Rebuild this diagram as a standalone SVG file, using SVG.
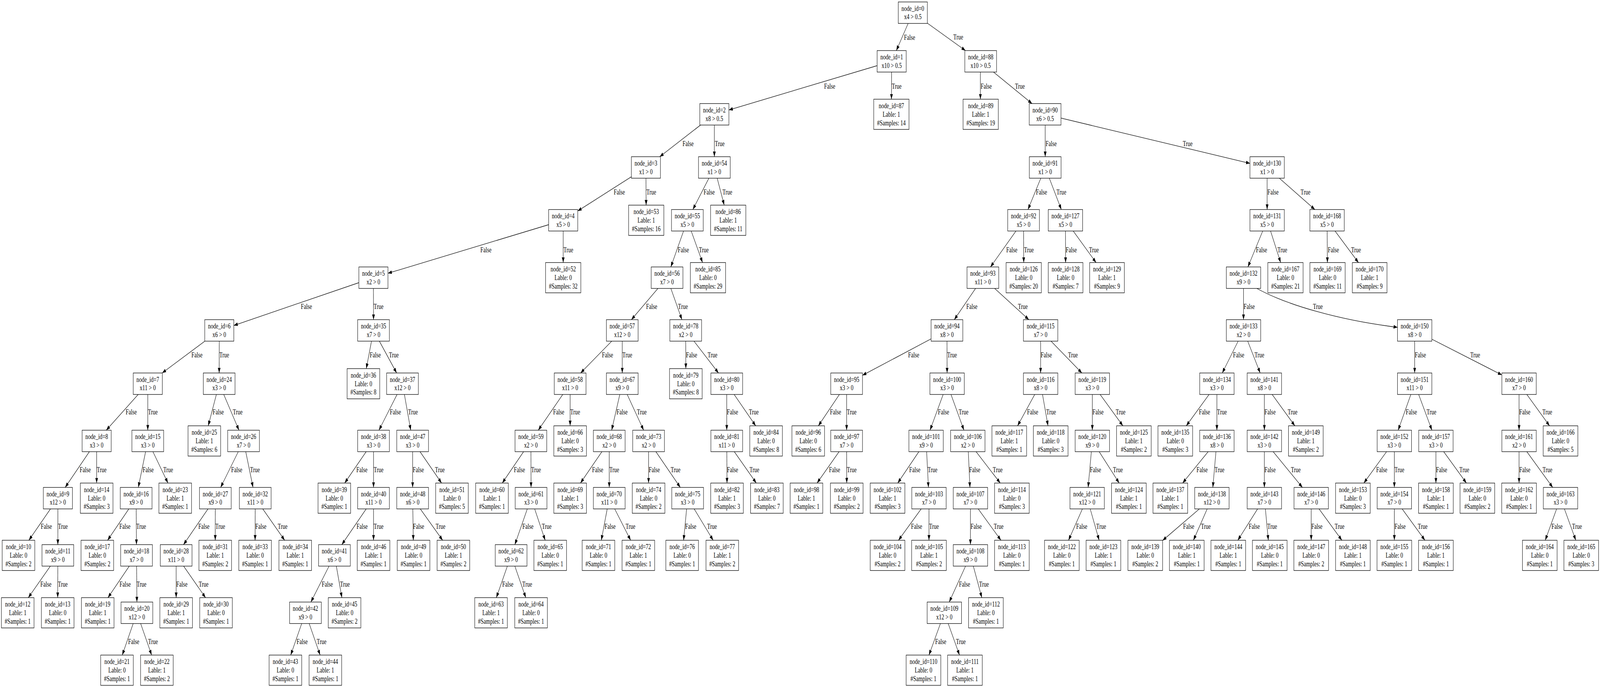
<svg xmlns="http://www.w3.org/2000/svg" width="5446" height="1759" viewBox="0 0 5446 1759" preserveAspectRatio="none">
<style>
svg{width:100vw;height:100vh}
.e line,.e path{stroke:#000;stroke-width:1.3;fill:none;marker-end:url(#ah)}
.l text{font-family:"Liberation Serif","Times New Roman",serif;font-size:18px;fill:#000}
.n use{fill:#fff;stroke:#000;stroke-width:1.3}
.n text{font-family:"Liberation Serif","Times New Roman",serif;font-size:18px;text-anchor:middle;fill:#000}
</style>
<defs>
<marker id="ah" markerUnits="userSpaceOnUse" markerWidth="14" markerHeight="10" refX="13.3" refY="4.7" orient="auto"><path d="M0,0 L13.3,4.7 L0,9.4 z" fill="#000"/></marker>
<rect id="a" x="-49.5" y="-27.5" width="99" height="55"/>
<rect id="b" x="-54" y="-27.5" width="108" height="55"/>
<rect id="c" x="-58.5" y="-27.5" width="117" height="55"/>
<rect id="p" x="-55.5" y="-38.7" width="111" height="77.4"/>
<rect id="q" x="-59" y="-38.7" width="118" height="77.4"/>
<rect id="r" x="-60" y="-38.7" width="120" height="77.4"/>
</defs>
<rect width="5446" height="1759" fill="#fff"/>
<g id="connectors" class="e">
<line x1="3107" y1="32.5" x2="3050.9" y2="129.5"/>
<line x1="3107" y1="32.5" x2="3286.2" y2="129.5"/>
<line x1="3035" y1="157" x2="2481" y2="281.6"/>
<line x1="3035" y1="157" x2="3034.3" y2="254"/>
<line x1="3337" y1="157" x2="3337" y2="254"/>
<line x1="3337" y1="157" x2="3512.9" y2="265.2"/>
<line x1="2431.5" y1="292.7" x2="2245.6" y2="401.3"/>
<line x1="2431.5" y1="292.7" x2="2431.5" y2="401.3"/>
<line x1="3557.6" y1="292.7" x2="3557.6" y2="401.3"/>
<line x1="3557.6" y1="292.7" x2="4254.5" y2="418.3"/>
<line x1="2198.5" y1="428.8" x2="1966.5" y2="540.2"/>
<line x1="2198.5" y1="428.8" x2="2199.3" y2="525.3"/>
<line x1="2431.5" y1="428.8" x2="2358.3" y2="536.5"/>
<line x1="2431.5" y1="428.8" x2="2465.1" y2="525.3"/>
<line x1="3557.6" y1="428.8" x2="3499" y2="536.5"/>
<line x1="3557.6" y1="428.8" x2="3612.5" y2="536.5"/>
<line x1="4313" y1="428.8" x2="4313" y2="536.5"/>
<line x1="4313" y1="428.8" x2="4475.5" y2="536.5"/>
<line x1="1917" y1="564" x2="1320.5" y2="699.7"/>
<line x1="1917" y1="564" x2="1917" y2="672.3"/>
<line x1="2339.6" y1="564" x2="2283.4" y2="683.5"/>
<line x1="2339.6" y1="564" x2="2391.3" y2="672.3"/>
<line x1="3484" y1="564" x2="3371.4" y2="683.5"/>
<line x1="3484" y1="564" x2="3484.5" y2="672.3"/>
<line x1="3626.5" y1="564" x2="3627" y2="672.3"/>
<line x1="3626.5" y1="564" x2="3730.7" y2="672.3"/>
<line x1="4313" y1="564" x2="4247.6" y2="683.5"/>
<line x1="4313" y1="564" x2="4359" y2="672.3"/>
<line x1="4517" y1="564" x2="4518.2" y2="672.3"/>
<line x1="4517" y1="564" x2="4623.8" y2="672.3"/>
<line x1="1271" y1="711" x2="795.9" y2="833.3"/>
<line x1="1271" y1="711" x2="1271.4" y2="818.5"/>
<line x1="2270.5" y1="711" x2="2149.1" y2="818.5"/>
<line x1="2270.5" y1="711" x2="2321.1" y2="818.5"/>
<line x1="3345.5" y1="711" x2="3248.1" y2="818.5"/>
<line x1="3345.5" y1="711" x2="3502" y2="818.5"/>
<line x1="4232.6" y1="711" x2="4232.6" y2="818.5"/>
<path d="M4278,738.5 C4380,781 4560,820 4756.7,838"/>
<line x1="746.4" y1="846" x2="552" y2="955"/>
<line x1="746.4" y1="846" x2="746" y2="955"/>
<line x1="1271.4" y1="846" x2="1246.75" y2="943.8"/>
<line x1="1271.4" y1="846" x2="1350.1" y2="955"/>
<line x1="2118" y1="846" x2="1976.3" y2="955"/>
<line x1="2118" y1="846" x2="2118" y2="955"/>
<line x1="2334" y1="846" x2="2334.4" y2="943.8"/>
<line x1="2334" y1="846" x2="2445.6" y2="955"/>
<line x1="3223.2" y1="846" x2="2935.7" y2="960.9"/>
<line x1="3223.2" y1="846" x2="3223.7" y2="955"/>
<line x1="3542" y1="846" x2="3542" y2="955"/>
<line x1="3542" y1="846" x2="3682.5" y2="955"/>
<line x1="4232.6" y1="846" x2="4160.3" y2="955"/>
<line x1="4232.6" y1="846" x2="4289.3" y2="955"/>
<line x1="4815.2" y1="846" x2="4815.2" y2="955"/>
<line x1="4815.2" y1="846" x2="5112" y2="960"/>
<line x1="503" y1="982.5" x2="361.7" y2="1101.5"/>
<line x1="503" y1="982.5" x2="503" y2="1101.5"/>
<line x1="746" y1="982.5" x2="708.8" y2="1090.3"/>
<line x1="746" y1="982.5" x2="813.4" y2="1101.5"/>
<line x1="1370" y1="982.5" x2="1289.9" y2="1101.5"/>
<line x1="1370" y1="982.5" x2="1398" y2="1101.5"/>
<line x1="1940.6" y1="982.5" x2="1832.1" y2="1101.5"/>
<line x1="1940.6" y1="982.5" x2="1940.6" y2="1090.3"/>
<line x1="2118" y1="982.5" x2="2082" y2="1101.5"/>
<line x1="2118" y1="982.5" x2="2190.8" y2="1101.5"/>
<line x1="2473.7" y1="982.5" x2="2473.7" y2="1101.5"/>
<line x1="2473.7" y1="982.5" x2="2572.2" y2="1090.3"/>
<line x1="2881.7" y1="982.5" x2="2785.5" y2="1090.3"/>
<line x1="2881.7" y1="982.5" x2="2881.7" y2="1101.5"/>
<line x1="3223.7" y1="982.5" x2="3165.6" y2="1101.5"/>
<line x1="3223.7" y1="982.5" x2="3281" y2="1101.5"/>
<line x1="3542" y1="982.5" x2="3463.5" y2="1090.3"/>
<line x1="3542" y1="982.5" x2="3567.2" y2="1090.3"/>
<line x1="3718" y1="982.5" x2="3718" y2="1101.5"/>
<line x1="3718" y1="982.5" x2="3822" y2="1090.3"/>
<line x1="4142" y1="982.5" x2="4037.8" y2="1090.3"/>
<line x1="4142" y1="982.5" x2="4142" y2="1101.5"/>
<line x1="4303.6" y1="982.5" x2="4303.6" y2="1101.5"/>
<line x1="4303.6" y1="982.5" x2="4407.4" y2="1090.3"/>
<line x1="4815.2" y1="982.5" x2="4759" y2="1101.5"/>
<line x1="4815.2" y1="982.5" x2="4873.9" y2="1101.5"/>
<line x1="5170.5" y1="982.5" x2="5170.5" y2="1101.5"/>
<line x1="5170.5" y1="982.5" x2="5274.3" y2="1090.3"/>
<line x1="329" y1="1129" x2="221.8" y2="1248"/>
<line x1="329" y1="1129" x2="329" y2="1236.8"/>
<line x1="503" y1="1129" x2="470.8" y2="1248"/>
<line x1="503" y1="1129" x2="571.7" y2="1236.8"/>
<line x1="829" y1="1129" x2="751" y2="1248"/>
<line x1="829" y1="1129" x2="861.3" y2="1248"/>
<line x1="1271.4" y1="1129" x2="1173.2" y2="1236.8"/>
<line x1="1271.4" y1="1129" x2="1271.4" y2="1248"/>
<line x1="1404.5" y1="1129" x2="1404.5" y2="1248"/>
<line x1="1404.5" y1="1129" x2="1503" y2="1236.8"/>
<line x1="1807" y1="1129" x2="1709.6" y2="1236.8"/>
<line x1="1807" y1="1129" x2="1807.6" y2="1248"/>
<line x1="2073.7" y1="1129" x2="1975.8" y2="1236.8"/>
<line x1="2073.7" y1="1129" x2="2073.7" y2="1248"/>
<line x1="2207.6" y1="1129" x2="2207.6" y2="1236.8"/>
<line x1="2207.6" y1="1129" x2="2315.6" y2="1248"/>
<line x1="2473.7" y1="1129" x2="2474.6" y2="1236.8"/>
<line x1="2473.7" y1="1129" x2="2574.2" y2="1236.8"/>
<line x1="2881.7" y1="1129" x2="2781.1" y2="1236.8"/>
<line x1="2881.7" y1="1129" x2="2882.1" y2="1236.8"/>
<line x1="3152.2" y1="1129" x2="3055.7" y2="1236.8"/>
<line x1="3152.2" y1="1129" x2="3160.2" y2="1248"/>
<line x1="3294.2" y1="1129" x2="3301.4" y2="1248"/>
<line x1="3294.2" y1="1129" x2="3404.6" y2="1236.8"/>
<line x1="3718" y1="1129" x2="3703.7" y2="1248"/>
<line x1="3718" y1="1129" x2="3809.5" y2="1236.8"/>
<line x1="4142" y1="1129" x2="4025.4" y2="1236.8"/>
<line x1="4142" y1="1129" x2="4128.2" y2="1248"/>
<line x1="4303.6" y1="1129" x2="4303.6" y2="1248"/>
<line x1="4303.6" y1="1129" x2="4433.1" y2="1248"/>
<line x1="4746" y1="1129" x2="4642.2" y2="1236.8"/>
<line x1="4746" y1="1129" x2="4746" y2="1248"/>
<line x1="4887.5" y1="1129" x2="4887.5" y2="1236.8"/>
<line x1="4887.5" y1="1129" x2="4991.3" y2="1236.8"/>
<line x1="5170.5" y1="1129" x2="5170.5" y2="1236.8"/>
<line x1="5170.5" y1="1129" x2="5285.1" y2="1248"/>
<line x1="197" y1="1275.5" x2="98.3" y2="1383.3"/>
<line x1="197" y1="1275.5" x2="196.9" y2="1394.5"/>
<line x1="463.4" y1="1275.5" x2="366.2" y2="1383.3"/>
<line x1="463.4" y1="1275.5" x2="464.5" y2="1394.5"/>
<line x1="733" y1="1275.5" x2="624.6" y2="1394.5"/>
<line x1="733" y1="1275.5" x2="732.6" y2="1383.3"/>
<line x1="868.8" y1="1275.5" x2="868.3" y2="1383.3"/>
<line x1="868.8" y1="1275.5" x2="968.9" y2="1383.3"/>
<line x1="1271.4" y1="1275.5" x2="1163.4" y2="1394.5"/>
<line x1="1271.4" y1="1275.5" x2="1271.4" y2="1383.3"/>
<line x1="1404.5" y1="1275.5" x2="1406.8" y2="1383.3"/>
<line x1="1404.5" y1="1275.5" x2="1506.6" y2="1383.3"/>
<line x1="1807.6" y1="1275.5" x2="1752.4" y2="1394.5"/>
<line x1="1807.6" y1="1275.5" x2="1855.6" y2="1383.3"/>
<line x1="2073.7" y1="1275.5" x2="2046.7" y2="1383.3"/>
<line x1="2073.7" y1="1275.5" x2="2146.6" y2="1383.3"/>
<line x1="2340.6" y1="1275.5" x2="2326.8" y2="1383.3"/>
<line x1="2340.6" y1="1275.5" x2="2427.4" y2="1383.3"/>
<line x1="3162" y1="1275.5" x2="3058.2" y2="1383.3"/>
<line x1="3162" y1="1275.5" x2="3162" y2="1383.3"/>
<line x1="3303.1" y1="1275.5" x2="3303.1" y2="1394.5"/>
<line x1="3303.1" y1="1275.5" x2="3406.9" y2="1383.3"/>
<line x1="3700.4" y1="1275.5" x2="3637" y2="1383.3"/>
<line x1="3700.4" y1="1275.5" x2="3741.2" y2="1383.3"/>
<line x1="4125" y1="1275.5" x2="3957.2" y2="1383.9"/>
<line x1="4125" y1="1275.5" x2="4062.1" y2="1383.3"/>
<line x1="4303.6" y1="1275.5" x2="4213.2" y2="1383.3"/>
<line x1="4303.6" y1="1275.5" x2="4317.1" y2="1383.3"/>
<line x1="4463" y1="1275.5" x2="4463" y2="1383.3"/>
<line x1="4463" y1="1275.5" x2="4567.4" y2="1383.3"/>
<line x1="4746" y1="1275.5" x2="4746" y2="1383.3"/>
<line x1="4746" y1="1275.5" x2="4850.1" y2="1383.3"/>
<line x1="5311.6" y1="1275.5" x2="5259.6" y2="1383.3"/>
<line x1="5311.6" y1="1275.5" x2="5363.6" y2="1383.3"/>
<line x1="196.9" y1="1422" x2="96.3" y2="1530.3"/>
<line x1="196.9" y1="1422" x2="196.4" y2="1530.3"/>
<line x1="464.7" y1="1422" x2="367.4" y2="1530.3"/>
<line x1="464.7" y1="1422" x2="466" y2="1541.5"/>
<line x1="599.6" y1="1422" x2="599.6" y2="1530.3"/>
<line x1="599.6" y1="1422" x2="699.6" y2="1530.3"/>
<line x1="1138.4" y1="1422" x2="1058.2" y2="1541.5"/>
<line x1="1138.4" y1="1422" x2="1163.7" y2="1530.3"/>
<line x1="1739.7" y1="1422" x2="1689.4" y2="1530.3"/>
<line x1="1739.7" y1="1422" x2="1789.7" y2="1530.3"/>
<line x1="3303.1" y1="1422" x2="3230.9" y2="1541.5"/>
<line x1="3303.1" y1="1422" x2="3341.9" y2="1530.3"/>
<line x1="466" y1="1569" x2="416.1" y2="1677.3"/>
<line x1="466" y1="1569" x2="516.1" y2="1677.3"/>
<line x1="1039.7" y1="1569" x2="989.5" y2="1677.3"/>
<line x1="1039.7" y1="1569" x2="1089.6" y2="1677.3"/>
<line x1="3214.3" y1="1569" x2="3162" y2="1677.3"/>
<line x1="3214.3" y1="1569" x2="3265.9" y2="1677.3"/>
</g>
<g id="connector-labels" class="l">
<text x="3077" y="101.7">False</text><text x="3245" y="101">True</text>
<text x="2805" y="227">False</text><text x="3035.5" y="227">True</text><text x="3338" y="227">False</text><text x="3455" y="227">True</text>
<text x="2323" y="374">False</text><text x="2433" y="374">True</text><text x="3559" y="374">False</text><text x="4026" y="374">True</text>
<text x="2089" y="498">False</text><text x="2200" y="498">True</text><text x="2395" y="498">False</text><text x="2459" y="498">True</text><text x="3526" y="498">False</text><text x="3596" y="498">True</text><text x="4314" y="498">False</text><text x="4427" y="498">True</text>
<text x="1635" y="645.6">False</text><text x="1918" y="645.6">True</text><text x="2307" y="645.6">False</text><text x="2379" y="645.6">True</text><text x="3425" y="645.6">False</text><text x="3485.5" y="645.6">True</text><text x="3627.5" y="645.6">False</text><text x="3707" y="645.6">True</text><text x="4275" y="645.6">False</text><text x="4348" y="645.6">True</text><text x="4519.5" y="645.6">False</text><text x="4599" y="645.6">True</text>
<text x="1024" y="790.6">False</text><text x="1272" y="790.6">True</text><text x="2199" y="790.6">False</text><text x="2308" y="790.6">True</text><text x="3289" y="790.6">False</text><text x="3465" y="790.6">True</text><text x="4233" y="790.6">False</text><text x="4469" y="790.6">True</text>
<text x="651.5" y="915">False</text><text x="746.5" y="915">True</text><text x="1258.5" y="915">False</text><text x="1324" y="915">True</text><text x="2049" y="915">False</text><text x="2118.5" y="915">True</text><text x="2335" y="915">False</text><text x="2408.5" y="915">True</text><text x="3091" y="915">False</text><text x="3224" y="915">True</text><text x="3542.5" y="915">False</text><text x="3635.5" y="915">True</text><text x="4197" y="915">False</text><text x="4270" y="915">True</text><text x="4815.7" y="915">False</text><text x="5004.5" y="915">True</text>
<text x="427.8" y="1061.4">False</text><text x="503.5" y="1061.4">True</text><text x="723.8" y="1061.4">False</text><text x="792.5" y="1061.4">True</text><text x="1327" y="1061.4">False</text><text x="1389" y="1061.4">True</text><text x="1882.7" y="1061.4">False</text><text x="1941" y="1061.4">True</text><text x="2098.5" y="1061.4">False</text><text x="2168" y="1061.4">True</text><text x="2474.2" y="1061.4">False</text><text x="2549" y="1061.4">True</text><text x="2825" y="1061.4">False</text><text x="2882.2" y="1061.4">True</text><text x="3192.5" y="1061.4">False</text><text x="3263" y="1061.4">True</text><text x="3495.7" y="1061.4">False</text><text x="3561" y="1061.4">True</text><text x="3718.5" y="1061.4">False</text><text x="3797.6" y="1061.4">True</text><text x="4080.7" y="1061.4">False</text><text x="4142.5" y="1061.4">True</text><text x="4304" y="1061.4">False</text><text x="4383" y="1061.4">True</text><text x="4785" y="1061.4">False</text><text x="4855.6" y="1061.4">True</text><text x="5171" y="1061.4">False</text><text x="5249.8" y="1061.4">True</text>
<text x="271.2" y="1208.6">False</text><text x="329.5" y="1208.6">True</text><text x="485.3" y="1208.6">False</text><text x="555.8" y="1208.6">True</text><text x="786.9" y="1208.6">False</text><text x="851.2" y="1208.6">True</text><text x="1213" y="1208.6">False</text><text x="1272" y="1208.6">True</text><text x="1405" y="1208.6">False</text><text x="1480.4" y="1208.6">True</text><text x="1749" y="1208.6">False</text><text x="1807.8" y="1208.6">True</text><text x="2015.4" y="1208.6">False</text><text x="2074.2" y="1208.6">True</text><text x="2208" y="1208.6">False</text><text x="2283" y="1208.6">True</text><text x="2474.4" y="1208.6">False</text><text x="2551.1" y="1208.6">True</text><text x="2821.8" y="1208.6">False</text><text x="2882.4" y="1208.6">True</text><text x="3094.8" y="1208.6">False</text><text x="3157.3" y="1208.6">True</text><text x="3298.8" y="1208.6">False</text><text x="3379.3" y="1208.6">True</text><text x="3709.9" y="1208.6">False</text><text x="3788.5" y="1208.6">True</text><text x="4072.7" y="1208.6">False</text><text x="4134.2" y="1208.6">True</text><text x="4304" y="1208.6">False</text><text x="4394" y="1208.6">True</text><text x="4684.2" y="1208.6">False</text><text x="4746.5" y="1208.6">True</text><text x="4888" y="1208.6">False</text><text x="4967.5" y="1208.6">True</text><text x="5171" y="1208.6">False</text><text x="5250.5" y="1208.6">True</text>
<text x="138.9" y="1354.5">False</text><text x="197.4" y="1354.5">True</text><text x="406.1" y="1354.5">False</text><text x="463.6" y="1354.5">True</text><text x="675.1" y="1354.5">False</text><text x="733" y="1354.5">True</text><text x="868.8" y="1354.5">False</text><text x="945.4" y="1354.5">True</text><text x="1213.7" y="1354.5">False</text><text x="1272" y="1354.5">True</text><text x="1405.7" y="1354.5">False</text><text x="1482.7" y="1354.5">True</text><text x="1777.9" y="1354.5">False</text><text x="1844.1" y="1354.5">True</text><text x="2057.4" y="1354.5">False</text><text x="2129.4" y="1354.5">True</text><text x="2332.1" y="1354.5">False</text><text x="2406.8" y="1354.5">True</text><text x="3100.8" y="1354.5">False</text><text x="3162.5" y="1354.5">True</text><text x="3303.6" y="1354.5">False</text><text x="3382.5" y="1354.5">True</text><text x="3662.9" y="1354.5">False</text><text x="3731.3" y="1354.5">True</text><text x="4027" y="1354.5">False</text><text x="4087.7" y="1354.5">True</text><text x="4250.3" y="1354.5">False</text><text x="4313.4" y="1354.5">True</text><text x="4463.5" y="1354.5">False</text><text x="4542.9" y="1354.5">True</text><text x="4746.5" y="1354.5">False</text><text x="4825.7" y="1354.5">True</text><text x="5280.7" y="1354.5">False</text><text x="5351.1" y="1354.5">True</text>
<text x="137.2" y="1501.7">False</text><text x="197" y="1501.7">True</text><text x="407" y="1501.7">False</text><text x="465" y="1501.7">True</text><text x="600.1" y="1501.7">False</text><text x="676.3" y="1501.7">True</text><text x="1095.1" y="1501.7">False</text><text x="1157.4" y="1501.7">True</text><text x="1709.6" y="1501.7">False</text><text x="1777.8" y="1501.7">True</text><text x="3264.1" y="1501.7">False</text><text x="3332.6" y="1501.7">True</text>
<text x="436" y="1649">False</text><text x="504.3" y="1649">True</text><text x="1009.5" y="1649">False</text><text x="1077.9" y="1649">True</text><text x="3182.9" y="1649">False</text><text x="3253.9" y="1649">True</text>
</g>
<g id="nodes" class="n">
<g id="node0" transform="translate(3107,32.5)"><use href="#a"/><text y="-5">node_id=0<tspan x="0" dy="22">x4 &gt; 0.5</tspan></text></g>
<g id="node1" transform="translate(3035,157)"><use href="#a"/><text y="-5">node_id=1<tspan x="0" dy="22">x10 &gt; 0.5</tspan></text></g>
<g id="node88" transform="translate(3338,157)"><use href="#b"/><text y="-5">node_id=88<tspan x="0" dy="22">x10 &gt; 0.5</tspan></text></g>
<g id="node2" transform="translate(2431.5,292.7)"><use href="#a"/><text y="-5">node_id=2<tspan x="0" dy="22">x8 &gt; 0.5</tspan></text></g>
<g id="node87" transform="translate(3034,292.7)"><use href="#r"/><text y="-16">node_id=87<tspan x="0" dy="22">Lable: 1</tspan><tspan x="0" dy="22">#Samples: 14</tspan></text></g>
<g id="node89" transform="translate(3338,292.7)"><use href="#r"/><text y="-16">node_id=89<tspan x="0" dy="22">Lable: 1</tspan><tspan x="0" dy="22">#Samples: 19</tspan></text></g>
<g id="node90" transform="translate(3557.3,292.7)"><use href="#b"/><text y="-5">node_id=90<tspan x="0" dy="22">x6 &gt; 0.5</tspan></text></g>
<g id="node3" transform="translate(2198.5,428.8)"><use href="#a"/><text y="-5">node_id=3<tspan x="0" dy="22">x1 &gt; 0</tspan></text></g>
<g id="node54" transform="translate(2431.5,428.8)"><use href="#b"/><text y="-5">node_id=54<tspan x="0" dy="22">x1 &gt; 0</tspan></text></g>
<g id="node91" transform="translate(3557.6,428.8)"><use href="#b"/><text y="-5">node_id=91<tspan x="0" dy="22">x1 &gt; 0</tspan></text></g>
<g id="node130" transform="translate(4313,428.8)"><use href="#c"/><text y="-5">node_id=130<tspan x="0" dy="22">x1 &gt; 0</tspan></text></g>
<g id="node4" transform="translate(1917,564)"><use href="#a"/><text y="-5">node_id=4<tspan x="0" dy="22">x5 &gt; 0</tspan></text></g>
<g id="node53" transform="translate(2199.6,564)"><use href="#r"/><text y="-16">node_id=53<tspan x="0" dy="22">Lable: 1</tspan><tspan x="0" dy="22">#Samples: 16</tspan></text></g>
<g id="node55" transform="translate(2339.6,564)"><use href="#b"/><text y="-5">node_id=55<tspan x="0" dy="22">x5 &gt; 0</tspan></text></g>
<g id="node86" transform="translate(2478.6,564)"><use href="#r"/><text y="-16">node_id=86<tspan x="0" dy="22">Lable: 1</tspan><tspan x="0" dy="22">#Samples: 11</tspan></text></g>
<g id="node92" transform="translate(3484,564)"><use href="#b"/><text y="-5">node_id=92<tspan x="0" dy="22">x5 &gt; 0</tspan></text></g>
<g id="node127" transform="translate(3626.5,564)"><use href="#c"/><text y="-5">node_id=127<tspan x="0" dy="22">x5 &gt; 0</tspan></text></g>
<g id="node131" transform="translate(4313,564)"><use href="#c"/><text y="-5">node_id=131<tspan x="0" dy="22">x5 &gt; 0</tspan></text></g>
<g id="node168" transform="translate(4517,564)"><use href="#c"/><text y="-5">node_id=168<tspan x="0" dy="22">x5 &gt; 0</tspan></text></g>
<g id="node5" transform="translate(1271,711)"><use href="#a"/><text y="-5">node_id=5<tspan x="0" dy="22">x2 &gt; 0</tspan></text></g>
<g id="node52" transform="translate(1917,711)"><use href="#r"/><text y="-16">node_id=52<tspan x="0" dy="22">Lable: 0</tspan><tspan x="0" dy="22">#Samples: 32</tspan></text></g>
<g id="node56" transform="translate(2270.5,711)"><use href="#b"/><text y="-5">node_id=56<tspan x="0" dy="22">x7 &gt; 0</tspan></text></g>
<g id="node85" transform="translate(2409.8,711)"><use href="#r"/><text y="-16">node_id=85<tspan x="0" dy="22">Lable: 0</tspan><tspan x="0" dy="22">#Samples: 29</tspan></text></g>
<g id="node93" transform="translate(3345.5,711)"><use href="#b"/><text y="-5">node_id=93<tspan x="0" dy="22">x11 &gt; 0</tspan></text></g>
<g id="node126" transform="translate(3484.5,711)"><use href="#r"/><text y="-16">node_id=126<tspan x="0" dy="22">Lable: 0</tspan><tspan x="0" dy="22">#Samples: 20</tspan></text></g>
<g id="node128" transform="translate(3627,711)"><use href="#q"/><text y="-16">node_id=128<tspan x="0" dy="22">Lable: 0</tspan><tspan x="0" dy="22">#Samples: 7</tspan></text></g>
<g id="node129" transform="translate(3768,711)"><use href="#q"/><text y="-16">node_id=129<tspan x="0" dy="22">Lable: 1</tspan><tspan x="0" dy="22">#Samples: 9</tspan></text></g>
<g id="node132" transform="translate(4232.6,711)"><use href="#c"/><text y="-5">node_id=132<tspan x="0" dy="22">x9 &gt; 0</tspan></text></g>
<g id="node167" transform="translate(4375.4,711)"><use href="#r"/><text y="-16">node_id=167<tspan x="0" dy="22">Lable: 0</tspan><tspan x="0" dy="22">#Samples: 21</tspan></text></g>
<g id="node169" transform="translate(4518.6,711)"><use href="#r"/><text y="-16">node_id=169<tspan x="0" dy="22">Lable: 0</tspan><tspan x="0" dy="22">#Samples: 11</tspan></text></g>
<g id="node170" transform="translate(4662,711)"><use href="#q"/><text y="-16">node_id=170<tspan x="0" dy="22">Lable: 1</tspan><tspan x="0" dy="22">#Samples: 9</tspan></text></g>
<g id="node6" transform="translate(746.4,846)"><use href="#a"/><text y="-5">node_id=6<tspan x="0" dy="22">x6 &gt; 0</tspan></text></g>
<g id="node35" transform="translate(1271.4,846)"><use href="#b"/><text y="-5">node_id=35<tspan x="0" dy="22">x7 &gt; 0</tspan></text></g>
<g id="node57" transform="translate(2118,846)"><use href="#b"/><text y="-5">node_id=57<tspan x="0" dy="22">x12 &gt; 0</tspan></text></g>
<g id="node78" transform="translate(2334,846)"><use href="#b"/><text y="-5">node_id=78<tspan x="0" dy="22">x2 &gt; 0</tspan></text></g>
<g id="node94" transform="translate(3223.2,846)"><use href="#b"/><text y="-5">node_id=94<tspan x="0" dy="22">x8 &gt; 0</tspan></text></g>
<g id="node115" transform="translate(3542,846)"><use href="#c"/><text y="-5">node_id=115<tspan x="0" dy="22">x7 &gt; 0</tspan></text></g>
<g id="node133" transform="translate(4232.6,846)"><use href="#c"/><text y="-5">node_id=133<tspan x="0" dy="22">x2 &gt; 0</tspan></text></g>
<g id="node150" transform="translate(4815.2,846)"><use href="#c"/><text y="-5">node_id=150<tspan x="0" dy="22">x8 &gt; 0</tspan></text></g>
<g id="node7" transform="translate(503,982.5)"><use href="#a"/><text y="-5">node_id=7<tspan x="0" dy="22">x11 &gt; 0</tspan></text></g>
<g id="node24" transform="translate(746,982.5)"><use href="#b"/><text y="-5">node_id=24<tspan x="0" dy="22">x3 &gt; 0</tspan></text></g>
<g id="node36" transform="translate(1237,982.5)"><use href="#p"/><text y="-16">node_id=36<tspan x="0" dy="22">Lable: 0</tspan><tspan x="0" dy="22">#Samples: 8</tspan></text></g>
<g id="node37" transform="translate(1370,982.5)"><use href="#b"/><text y="-5">node_id=37<tspan x="0" dy="22">x12 &gt; 0</tspan></text></g>
<g id="node58" transform="translate(1940.6,982.5)"><use href="#b"/><text y="-5">node_id=58<tspan x="0" dy="22">x11 &gt; 0</tspan></text></g>
<g id="node67" transform="translate(2118,982.5)"><use href="#b"/><text y="-5">node_id=67<tspan x="0" dy="22">x9 &gt; 0</tspan></text></g>
<g id="node79" transform="translate(2334.4,982.5)"><use href="#p"/><text y="-16">node_id=79<tspan x="0" dy="22">Lable: 0</tspan><tspan x="0" dy="22">#Samples: 8</tspan></text></g>
<g id="node80" transform="translate(2473.7,982.5)"><use href="#b"/><text y="-5">node_id=80<tspan x="0" dy="22">x3 &gt; 0</tspan></text></g>
<g id="node95" transform="translate(2881.7,982.5)"><use href="#b"/><text y="-5">node_id=95<tspan x="0" dy="22">x3 &gt; 0</tspan></text></g>
<g id="node100" transform="translate(3223.7,982.5)"><use href="#c"/><text y="-5">node_id=100<tspan x="0" dy="22">x3 &gt; 0</tspan></text></g>
<g id="node116" transform="translate(3542,982.5)"><use href="#c"/><text y="-5">node_id=116<tspan x="0" dy="22">x8 &gt; 0</tspan></text></g>
<g id="node119" transform="translate(3718,982.5)"><use href="#c"/><text y="-5">node_id=119<tspan x="0" dy="22">x3 &gt; 0</tspan></text></g>
<g id="node134" transform="translate(4142,982.5)"><use href="#c"/><text y="-5">node_id=134<tspan x="0" dy="22">x3 &gt; 0</tspan></text></g>
<g id="node141" transform="translate(4303.6,982.5)"><use href="#c"/><text y="-5">node_id=141<tspan x="0" dy="22">x8 &gt; 0</tspan></text></g>
<g id="node151" transform="translate(4815.2,982.5)"><use href="#c"/><text y="-5">node_id=151<tspan x="0" dy="22">x11 &gt; 0</tspan></text></g>
<g id="node160" transform="translate(5170.5,982.5)"><use href="#c"/><text y="-5">node_id=160<tspan x="0" dy="22">x7 &gt; 0</tspan></text></g>
<g id="node8" transform="translate(329,1129)"><use href="#a"/><text y="-5">node_id=8<tspan x="0" dy="22">x3 &gt; 0</tspan></text></g>
<g id="node15" transform="translate(503,1129)"><use href="#b"/><text y="-5">node_id=15<tspan x="0" dy="22">x3 &gt; 0</tspan></text></g>
<g id="node25" transform="translate(695.5,1129)"><use href="#p"/><text y="-16">node_id=25<tspan x="0" dy="22">Lable: 1</tspan><tspan x="0" dy="22">#Samples: 6</tspan></text></g>
<g id="node26" transform="translate(829,1129)"><use href="#b"/><text y="-5">node_id=26<tspan x="0" dy="22">x7 &gt; 0</tspan></text></g>
<g id="node38" transform="translate(1271.4,1129)"><use href="#b"/><text y="-5">node_id=38<tspan x="0" dy="22">x3 &gt; 0</tspan></text></g>
<g id="node47" transform="translate(1404.5,1129)"><use href="#b"/><text y="-5">node_id=47<tspan x="0" dy="22">x3 &gt; 0</tspan></text></g>
<g id="node59" transform="translate(1807,1129)"><use href="#b"/><text y="-5">node_id=59<tspan x="0" dy="22">x2 &gt; 0</tspan></text></g>
<g id="node66" transform="translate(1940.6,1129)"><use href="#p"/><text y="-16">node_id=66<tspan x="0" dy="22">Lable: 0</tspan><tspan x="0" dy="22">#Samples: 3</tspan></text></g>
<g id="node68" transform="translate(2073.7,1129)"><use href="#b"/><text y="-5">node_id=68<tspan x="0" dy="22">x2 &gt; 0</tspan></text></g>
<g id="node73" transform="translate(2207.6,1129)"><use href="#b"/><text y="-5">node_id=73<tspan x="0" dy="22">x2 &gt; 0</tspan></text></g>
<g id="node81" transform="translate(2473.7,1129)"><use href="#b"/><text y="-5">node_id=81<tspan x="0" dy="22">x11 &gt; 0</tspan></text></g>
<g id="node84" transform="translate(2607.6,1129)"><use href="#p"/><text y="-16">node_id=84<tspan x="0" dy="22">Lable: 0</tspan><tspan x="0" dy="22">#Samples: 8</tspan></text></g>
<g id="node96" transform="translate(2751,1129)"><use href="#p"/><text y="-16">node_id=96<tspan x="0" dy="22">Lable: 0</tspan><tspan x="0" dy="22">#Samples: 6</tspan></text></g>
<g id="node97" transform="translate(2881.7,1129)"><use href="#b"/><text y="-5">node_id=97<tspan x="0" dy="22">x7 &gt; 0</tspan></text></g>
<g id="node101" transform="translate(3152.2,1129)"><use href="#c"/><text y="-5">node_id=101<tspan x="0" dy="22">x9 &gt; 0</tspan></text></g>
<g id="node106" transform="translate(3294.2,1129)"><use href="#c"/><text y="-5">node_id=106<tspan x="0" dy="22">x2 &gt; 0</tspan></text></g>
<g id="node117" transform="translate(3435.3,1129)"><use href="#q"/><text y="-16">node_id=117<tspan x="0" dy="22">Lable: 1</tspan><tspan x="0" dy="22">#Samples: 1</tspan></text></g>
<g id="node118" transform="translate(3576.3,1129)"><use href="#q"/><text y="-16">node_id=118<tspan x="0" dy="22">Lable: 0</tspan><tspan x="0" dy="22">#Samples: 3</tspan></text></g>
<g id="node120" transform="translate(3718,1129)"><use href="#c"/><text y="-5">node_id=120<tspan x="0" dy="22">x9 &gt; 0</tspan></text></g>
<g id="node125" transform="translate(3859.4,1129)"><use href="#q"/><text y="-16">node_id=125<tspan x="0" dy="22">Lable: 1</tspan><tspan x="0" dy="22">#Samples: 2</tspan></text></g>
<g id="node135" transform="translate(4000.4,1129)"><use href="#q"/><text y="-16">node_id=135<tspan x="0" dy="22">Lable: 0</tspan><tspan x="0" dy="22">#Samples: 3</tspan></text></g>
<g id="node136" transform="translate(4142,1129)"><use href="#c"/><text y="-5">node_id=136<tspan x="0" dy="22">x8 &gt; 0</tspan></text></g>
<g id="node142" transform="translate(4303.6,1129)"><use href="#c"/><text y="-5">node_id=142<tspan x="0" dy="22">x3 &gt; 0</tspan></text></g>
<g id="node149" transform="translate(4444.7,1129)"><use href="#q"/><text y="-16">node_id=149<tspan x="0" dy="22">Lable: 1</tspan><tspan x="0" dy="22">#Samples: 2</tspan></text></g>
<g id="node152" transform="translate(4746,1129)"><use href="#c"/><text y="-5">node_id=152<tspan x="0" dy="22">x3 &gt; 0</tspan></text></g>
<g id="node157" transform="translate(4887.5,1129)"><use href="#c"/><text y="-5">node_id=157<tspan x="0" dy="22">x3 &gt; 0</tspan></text></g>
<g id="node161" transform="translate(5170.5,1129)"><use href="#c"/><text y="-5">node_id=161<tspan x="0" dy="22">x2 &gt; 0</tspan></text></g>
<g id="node166" transform="translate(5311.6,1129)"><use href="#q"/><text y="-16">node_id=166<tspan x="0" dy="22">Lable: 0</tspan><tspan x="0" dy="22">#Samples: 5</tspan></text></g>
<g id="node9" transform="translate(197,1275.5)"><use href="#a"/><text y="-5">node_id=9<tspan x="0" dy="22">x12 &gt; 0</tspan></text></g>
<g id="node14" transform="translate(329,1275.5)"><use href="#p"/><text y="-16">node_id=14<tspan x="0" dy="22">Lable: 0</tspan><tspan x="0" dy="22">#Samples: 3</tspan></text></g>
<g id="node16" transform="translate(463.4,1275.5)"><use href="#b"/><text y="-5">node_id=16<tspan x="0" dy="22">x9 &gt; 0</tspan></text></g>
<g id="node23" transform="translate(596.4,1275.5)"><use href="#p"/><text y="-16">node_id=23<tspan x="0" dy="22">Lable: 1</tspan><tspan x="0" dy="22">#Samples: 1</tspan></text></g>
<g id="node27" transform="translate(733,1275.5)"><use href="#b"/><text y="-5">node_id=27<tspan x="0" dy="22">x9 &gt; 0</tspan></text></g>
<g id="node32" transform="translate(868.8,1275.5)"><use href="#b"/><text y="-5">node_id=32<tspan x="0" dy="22">x11 &gt; 0</tspan></text></g>
<g id="node39" transform="translate(1138,1275.5)"><use href="#p"/><text y="-16">node_id=39<tspan x="0" dy="22">Lable: 0</tspan><tspan x="0" dy="22">#Samples: 1</tspan></text></g>
<g id="node40" transform="translate(1271.4,1275.5)"><use href="#b"/><text y="-5">node_id=40<tspan x="0" dy="22">x11 &gt; 0</tspan></text></g>
<g id="node48" transform="translate(1404.5,1275.5)"><use href="#b"/><text y="-5">node_id=48<tspan x="0" dy="22">x6 &gt; 0</tspan></text></g>
<g id="node51" transform="translate(1538.4,1275.5)"><use href="#p"/><text y="-16">node_id=51<tspan x="0" dy="22">Lable: 0</tspan><tspan x="0" dy="22">#Samples: 5</tspan></text></g>
<g id="node60" transform="translate(1674.6,1275.5)"><use href="#p"/><text y="-16">node_id=60<tspan x="0" dy="22">Lable: 1</tspan><tspan x="0" dy="22">#Samples: 1</tspan></text></g>
<g id="node61" transform="translate(1807.6,1275.5)"><use href="#b"/><text y="-5">node_id=61<tspan x="0" dy="22">x3 &gt; 0</tspan></text></g>
<g id="node69" transform="translate(1940.6,1275.5)"><use href="#p"/><text y="-16">node_id=69<tspan x="0" dy="22">Lable: 1</tspan><tspan x="0" dy="22">#Samples: 3</tspan></text></g>
<g id="node70" transform="translate(2073.7,1275.5)"><use href="#b"/><text y="-5">node_id=70<tspan x="0" dy="22">x11 &gt; 0</tspan></text></g>
<g id="node74" transform="translate(2207.6,1275.5)"><use href="#p"/><text y="-16">node_id=74<tspan x="0" dy="22">Lable: 0</tspan><tspan x="0" dy="22">#Samples: 2</tspan></text></g>
<g id="node75" transform="translate(2340.6,1275.5)"><use href="#b"/><text y="-5">node_id=75<tspan x="0" dy="22">x3 &gt; 0</tspan></text></g>
<g id="node82" transform="translate(2474.6,1275.5)"><use href="#p"/><text y="-16">node_id=82<tspan x="0" dy="22">Lable: 1</tspan><tspan x="0" dy="22">#Samples: 3</tspan></text></g>
<g id="node83" transform="translate(2610.3,1275.5)"><use href="#p"/><text y="-16">node_id=83<tspan x="0" dy="22">Lable: 0</tspan><tspan x="0" dy="22">#Samples: 7</tspan></text></g>
<g id="node98" transform="translate(2745,1275.5)"><use href="#p"/><text y="-16">node_id=98<tspan x="0" dy="22">Lable: 1</tspan><tspan x="0" dy="22">#Samples: 1</tspan></text></g>
<g id="node99" transform="translate(2882.1,1275.5)"><use href="#p"/><text y="-16">node_id=99<tspan x="0" dy="22">Lable: 0</tspan><tspan x="0" dy="22">#Samples: 2</tspan></text></g>
<g id="node102" transform="translate(3021,1275.5)"><use href="#q"/><text y="-16">node_id=102<tspan x="0" dy="22">Lable: 1</tspan><tspan x="0" dy="22">#Samples: 3</tspan></text></g>
<g id="node103" transform="translate(3162,1275.5)"><use href="#c"/><text y="-5">node_id=103<tspan x="0" dy="22">x7 &gt; 0</tspan></text></g>
<g id="node107" transform="translate(3303.1,1275.5)"><use href="#c"/><text y="-5">node_id=107<tspan x="0" dy="22">x7 &gt; 0</tspan></text></g>
<g id="node114" transform="translate(3444.2,1275.5)"><use href="#q"/><text y="-16">node_id=114<tspan x="0" dy="22">Lable: 0</tspan><tspan x="0" dy="22">#Samples: 3</tspan></text></g>
<g id="node121" transform="translate(3700.4,1275.5)"><use href="#c"/><text y="-5">node_id=121<tspan x="0" dy="22">x12 &gt; 0</tspan></text></g>
<g id="node124" transform="translate(3842.4,1275.5)"><use href="#q"/><text y="-16">node_id=124<tspan x="0" dy="22">Lable: 1</tspan><tspan x="0" dy="22">#Samples: 1</tspan></text></g>
<g id="node137" transform="translate(3983.5,1275.5)"><use href="#q"/><text y="-16">node_id=137<tspan x="0" dy="22">Lable: 1</tspan><tspan x="0" dy="22">#Samples: 1</tspan></text></g>
<g id="node138" transform="translate(4125,1275.5)"><use href="#c"/><text y="-5">node_id=138<tspan x="0" dy="22">x12 &gt; 0</tspan></text></g>
<g id="node143" transform="translate(4303.6,1275.5)"><use href="#c"/><text y="-5">node_id=143<tspan x="0" dy="22">x7 &gt; 0</tspan></text></g>
<g id="node146" transform="translate(4463,1275.5)"><use href="#c"/><text y="-5">node_id=146<tspan x="0" dy="22">x7 &gt; 0</tspan></text></g>
<g id="node153" transform="translate(4604.9,1275.5)"><use href="#q"/><text y="-16">node_id=153<tspan x="0" dy="22">Lable: 0</tspan><tspan x="0" dy="22">#Samples: 3</tspan></text></g>
<g id="node154" transform="translate(4746,1275.5)"><use href="#c"/><text y="-5">node_id=154<tspan x="0" dy="22">x7 &gt; 0</tspan></text></g>
<g id="node158" transform="translate(4887.5,1275.5)"><use href="#q"/><text y="-16">node_id=158<tspan x="0" dy="22">Lable: 1</tspan><tspan x="0" dy="22">#Samples: 1</tspan></text></g>
<g id="node159" transform="translate(5028.6,1275.5)"><use href="#q"/><text y="-16">node_id=159<tspan x="0" dy="22">Lable: 0</tspan><tspan x="0" dy="22">#Samples: 2</tspan></text></g>
<g id="node162" transform="translate(5170.5,1275.5)"><use href="#q"/><text y="-16">node_id=162<tspan x="0" dy="22">Lable: 0</tspan><tspan x="0" dy="22">#Samples: 1</tspan></text></g>
<g id="node163" transform="translate(5311.6,1275.5)"><use href="#c"/><text y="-5">node_id=163<tspan x="0" dy="22">x3 &gt; 0</tspan></text></g>
<g id="node10" transform="translate(62.9,1422)"><use href="#p"/><text y="-16">node_id=10<tspan x="0" dy="22">Lable: 0</tspan><tspan x="0" dy="22">#Samples: 2</tspan></text></g>
<g id="node11" transform="translate(196.9,1422)"><use href="#b"/><text y="-5">node_id=11<tspan x="0" dy="22">x9 &gt; 0</tspan></text></g>
<g id="node17" transform="translate(331.3,1422)"><use href="#p"/><text y="-16">node_id=17<tspan x="0" dy="22">Lable: 0</tspan><tspan x="0" dy="22">#Samples: 2</tspan></text></g>
<g id="node18" transform="translate(464.7,1422)"><use href="#b"/><text y="-5">node_id=18<tspan x="0" dy="22">x7 &gt; 0</tspan></text></g>
<g id="node28" transform="translate(599.6,1422)"><use href="#b"/><text y="-5">node_id=28<tspan x="0" dy="22">x11 &gt; 0</tspan></text></g>
<g id="node31" transform="translate(732.6,1422)"><use href="#p"/><text y="-16">node_id=31<tspan x="0" dy="22">Lable: 1</tspan><tspan x="0" dy="22">#Samples: 2</tspan></text></g>
<g id="node33" transform="translate(868.3,1422)"><use href="#p"/><text y="-16">node_id=33<tspan x="0" dy="22">Lable: 0</tspan><tspan x="0" dy="22">#Samples: 1</tspan></text></g>
<g id="node34" transform="translate(1004.9,1422)"><use href="#p"/><text y="-16">node_id=34<tspan x="0" dy="22">Lable: 1</tspan><tspan x="0" dy="22">#Samples: 1</tspan></text></g>
<g id="node41" transform="translate(1138.4,1422)"><use href="#b"/><text y="-5">node_id=41<tspan x="0" dy="22">x6 &gt; 0</tspan></text></g>
<g id="node46" transform="translate(1271.4,1422)"><use href="#p"/><text y="-16">node_id=46<tspan x="0" dy="22">Lable: 1</tspan><tspan x="0" dy="22">#Samples: 1</tspan></text></g>
<g id="node49" transform="translate(1407.6,1422)"><use href="#p"/><text y="-16">node_id=49<tspan x="0" dy="22">Lable: 0</tspan><tspan x="0" dy="22">#Samples: 1</tspan></text></g>
<g id="node50" transform="translate(1543.3,1422)"><use href="#p"/><text y="-16">node_id=50<tspan x="0" dy="22">Lable: 1</tspan><tspan x="0" dy="22">#Samples: 2</tspan></text></g>
<g id="node62" transform="translate(1739.7,1422)"><use href="#b"/><text y="-5">node_id=62<tspan x="0" dy="22">x9 &gt; 0</tspan></text></g>
<g id="node65" transform="translate(1872.8,1422)"><use href="#p"/><text y="-16">node_id=65<tspan x="0" dy="22">Lable: 0</tspan><tspan x="0" dy="22">#Samples: 1</tspan></text></g>
<g id="node71" transform="translate(2037,1422)"><use href="#p"/><text y="-16">node_id=71<tspan x="0" dy="22">Lable: 0</tspan><tspan x="0" dy="22">#Samples: 1</tspan></text></g>
<g id="node72" transform="translate(2172.8,1422)"><use href="#p"/><text y="-16">node_id=72<tspan x="0" dy="22">Lable: 1</tspan><tspan x="0" dy="22">#Samples: 1</tspan></text></g>
<g id="node76" transform="translate(2321.9,1422)"><use href="#p"/><text y="-16">node_id=76<tspan x="0" dy="22">Lable: 0</tspan><tspan x="0" dy="22">#Samples: 1</tspan></text></g>
<g id="node77" transform="translate(2458.5,1422)"><use href="#p"/><text y="-16">node_id=77<tspan x="0" dy="22">Lable: 1</tspan><tspan x="0" dy="22">#Samples: 2</tspan></text></g>
<g id="node104" transform="translate(3021,1422)"><use href="#q"/><text y="-16">node_id=104<tspan x="0" dy="22">Lable: 0</tspan><tspan x="0" dy="22">#Samples: 2</tspan></text></g>
<g id="node105" transform="translate(3162,1422)"><use href="#q"/><text y="-16">node_id=105<tspan x="0" dy="22">Lable: 1</tspan><tspan x="0" dy="22">#Samples: 2</tspan></text></g>
<g id="node108" transform="translate(3303.1,1422)"><use href="#c"/><text y="-5">node_id=108<tspan x="0" dy="22">x9 &gt; 0</tspan></text></g>
<g id="node113" transform="translate(3444.2,1422)"><use href="#q"/><text y="-16">node_id=113<tspan x="0" dy="22">Lable: 0</tspan><tspan x="0" dy="22">#Samples: 1</tspan></text></g>
<g id="node122" transform="translate(3614.3,1422)"><use href="#q"/><text y="-16">node_id=122<tspan x="0" dy="22">Lable: 0</tspan><tspan x="0" dy="22">#Samples: 1</tspan></text></g>
<g id="node123" transform="translate(3755.8,1422)"><use href="#q"/><text y="-16">node_id=123<tspan x="0" dy="22">Lable: 1</tspan><tspan x="0" dy="22">#Samples: 1</tspan></text></g>
<g id="node139" transform="translate(3898.2,1422)"><use href="#q"/><text y="-16">node_id=139<tspan x="0" dy="22">Lable: 0</tspan><tspan x="0" dy="22">#Samples: 2</tspan></text></g>
<g id="node140" transform="translate(4039.5,1422)"><use href="#q"/><text y="-16">node_id=140<tspan x="0" dy="22">Lable: 1</tspan><tspan x="0" dy="22">#Samples: 1</tspan></text></g>
<g id="node144" transform="translate(4180.8,1422)"><use href="#q"/><text y="-16">node_id=144<tspan x="0" dy="22">Lable: 1</tspan><tspan x="0" dy="22">#Samples: 1</tspan></text></g>
<g id="node145" transform="translate(4321.9,1422)"><use href="#q"/><text y="-16">node_id=145<tspan x="0" dy="22">Lable: 0</tspan><tspan x="0" dy="22">#Samples: 1</tspan></text></g>
<g id="node147" transform="translate(4463,1422)"><use href="#q"/><text y="-16">node_id=147<tspan x="0" dy="22">Lable: 0</tspan><tspan x="0" dy="22">#Samples: 2</tspan></text></g>
<g id="node148" transform="translate(4604.9,1422)"><use href="#q"/><text y="-16">node_id=148<tspan x="0" dy="22">Lable: 1</tspan><tspan x="0" dy="22">#Samples: 1</tspan></text></g>
<g id="node155" transform="translate(4746,1422)"><use href="#q"/><text y="-16">node_id=155<tspan x="0" dy="22">Lable: 0</tspan><tspan x="0" dy="22">#Samples: 1</tspan></text></g>
<g id="node156" transform="translate(4887.5,1422)"><use href="#q"/><text y="-16">node_id=156<tspan x="0" dy="22">Lable: 1</tspan><tspan x="0" dy="22">#Samples: 1</tspan></text></g>
<g id="node164" transform="translate(5241,1422)"><use href="#q"/><text y="-16">node_id=164<tspan x="0" dy="22">Lable: 0</tspan><tspan x="0" dy="22">#Samples: 1</tspan></text></g>
<g id="node165" transform="translate(5382.2,1422)"><use href="#q"/><text y="-16">node_id=165<tspan x="0" dy="22">Lable: 0</tspan><tspan x="0" dy="22">#Samples: 3</tspan></text></g>
<g id="node12" transform="translate(60.3,1569)"><use href="#p"/><text y="-16">node_id=12<tspan x="0" dy="22">Lable: 1</tspan><tspan x="0" dy="22">#Samples: 1</tspan></text></g>
<g id="node13" transform="translate(196.4,1569)"><use href="#p"/><text y="-16">node_id=13<tspan x="0" dy="22">Lable: 0</tspan><tspan x="0" dy="22">#Samples: 1</tspan></text></g>
<g id="node19" transform="translate(332.6,1569)"><use href="#p"/><text y="-16">node_id=19<tspan x="0" dy="22">Lable: 1</tspan><tspan x="0" dy="22">#Samples: 1</tspan></text></g>
<g id="node20" transform="translate(466,1569)"><use href="#b"/><text y="-5">node_id=20<tspan x="0" dy="22">x12 &gt; 0</tspan></text></g>
<g id="node29" transform="translate(599.6,1569)"><use href="#p"/><text y="-16">node_id=29<tspan x="0" dy="22">Lable: 1</tspan><tspan x="0" dy="22">#Samples: 1</tspan></text></g>
<g id="node30" transform="translate(735.3,1569)"><use href="#p"/><text y="-16">node_id=30<tspan x="0" dy="22">Lable: 0</tspan><tspan x="0" dy="22">#Samples: 1</tspan></text></g>
<g id="node42" transform="translate(1039.7,1569)"><use href="#b"/><text y="-5">node_id=42<tspan x="0" dy="22">x9 &gt; 0</tspan></text></g>
<g id="node45" transform="translate(1172.8,1569)"><use href="#p"/><text y="-16">node_id=45<tspan x="0" dy="22">Lable: 0</tspan><tspan x="0" dy="22">#Samples: 2</tspan></text></g>
<g id="node63" transform="translate(1671.4,1569)"><use href="#p"/><text y="-16">node_id=63<tspan x="0" dy="22">Lable: 1</tspan><tspan x="0" dy="22">#Samples: 1</tspan></text></g>
<g id="node64" transform="translate(1807.6,1569)"><use href="#p"/><text y="-16">node_id=64<tspan x="0" dy="22">Lable: 0</tspan><tspan x="0" dy="22">#Samples: 1</tspan></text></g>
<g id="node109" transform="translate(3214.3,1569)"><use href="#c"/><text y="-5">node_id=109<tspan x="0" dy="22">x12 &gt; 0</tspan></text></g>
<g id="node112" transform="translate(3355.8,1569)"><use href="#q"/><text y="-16">node_id=112<tspan x="0" dy="22">Lable: 0</tspan><tspan x="0" dy="22">#Samples: 1</tspan></text></g>
<g id="node21" transform="translate(398.2,1716)"><use href="#p"/><text y="-16">node_id=21<tspan x="0" dy="22">Lable: 0</tspan><tspan x="0" dy="22">#Samples: 1</tspan></text></g>
<g id="node22" transform="translate(534,1716)"><use href="#p"/><text y="-16">node_id=22<tspan x="0" dy="22">Lable: 1</tspan><tspan x="0" dy="22">#Samples: 2</tspan></text></g>
<g id="node43" transform="translate(971.5,1716)"><use href="#p"/><text y="-16">node_id=43<tspan x="0" dy="22">Lable: 0</tspan><tspan x="0" dy="22">#Samples: 1</tspan></text></g>
<g id="node44" transform="translate(1107.5,1716)"><use href="#p"/><text y="-16">node_id=44<tspan x="0" dy="22">Lable: 1</tspan><tspan x="0" dy="22">#Samples: 1</tspan></text></g>
<g id="node110" transform="translate(3143.3,1716)"><use href="#q"/><text y="-16">node_id=110<tspan x="0" dy="22">Lable: 0</tspan><tspan x="0" dy="22">#Samples: 1</tspan></text></g>
<g id="node111" transform="translate(3284.4,1716)"><use href="#q"/><text y="-16">node_id=111<tspan x="0" dy="22">Lable: 1</tspan><tspan x="0" dy="22">#Samples: 1</tspan></text></g>
</g>
</svg>
